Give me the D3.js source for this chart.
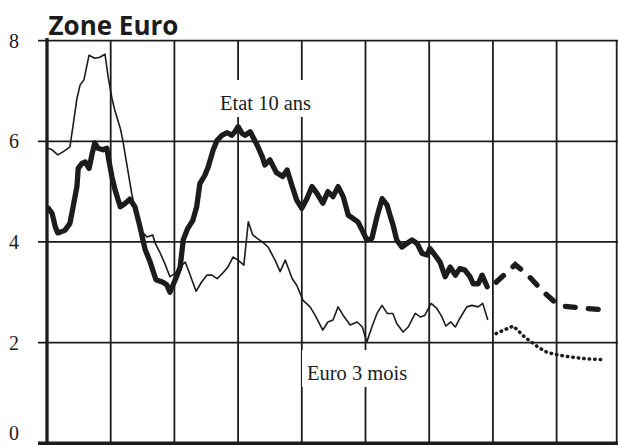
<!DOCTYPE html>
<html>
<head>
<meta charset="utf-8">
<script src="https://cdn.jsdelivr.net/npm/d3@7"></script>
<style>
  html, body { margin: 0; padding: 0; background: #fff; }
  svg { display: block; }
</style>
</head>
<body>
<svg id="chart" width="618" height="445"></svg>
<script>
// ---- data (x in periods: one grid column = 1 period) ----
const title = "Zone Euro";
const yTickValues = [0, 2, 4, 6, 8];
const periodTicks = [0, 1, 2, 3, 4, 5, 6, 7, 8, 9];
const labelTenYear = "Etat 10 ans";
const labelThreeMonth = "Euro 3 mois";

const tenYear = [
  [0.02,4.67],[0.08,4.57],[0.13,4.30],[0.17,4.18],[0.28,4.23],[0.36,4.37],[0.41,4.70],[0.47,5.10],
  [0.49,5.46],[0.55,5.56],[0.60,5.59],[0.66,5.46],[0.71,5.76],[0.75,5.97],[0.80,5.86],[0.88,5.83],
  [0.94,5.86],[0.97,5.63],[1.02,5.29],[1.07,5.03],[1.15,4.70],[1.22,4.76],[1.30,4.85],[1.38,4.70],
  [1.46,4.30],[1.54,3.85],[1.62,3.60],[1.71,3.25],[1.82,3.20],[1.88,3.15],[1.93,3.00],[2.03,3.30],
  [2.09,3.50],[2.14,4.05],[2.21,4.27],[2.29,4.43],[2.35,4.70],[2.40,5.16],[2.48,5.33],[2.53,5.49],
  [2.61,5.83],[2.67,6.02],[2.75,6.12],[2.83,6.17],[2.90,6.12],[2.95,6.19],[3.00,6.29],[3.06,6.16],
  [3.11,6.12],[3.19,6.19],[3.23,6.09],[3.30,5.92],[3.38,5.69],[3.42,5.53],[3.50,5.63],[3.60,5.38],
  [3.70,5.30],[3.77,5.43],[3.85,5.10],[3.92,4.83],[4.00,4.67],[4.08,4.86],[4.16,5.10],[4.24,4.96],
  [4.33,4.77],[4.41,5.00],[4.49,4.90],[4.57,5.10],[4.65,4.90],[4.73,4.53],[4.80,4.47],[4.88,4.40],
  [4.96,4.20],[5.02,4.04],[5.10,4.07],[5.18,4.50],[5.26,4.86],[5.34,4.73],[5.38,4.55],[5.43,4.35],
  [5.49,4.04],[5.57,3.90],[5.65,3.97],[5.73,4.04],[5.81,3.97],[5.89,3.77],[5.97,3.74],[6.01,3.87],
  [6.09,3.74],[6.17,3.60],[6.25,3.31],[6.33,3.50],[6.41,3.34],[6.48,3.47],[6.56,3.44],[6.64,3.31],
  [6.69,3.17],[6.77,3.17],[6.83,3.34],[6.91,3.11]
];

const threeMonth = [
  [0.02,5.86],[0.08,5.83],[0.17,5.73],[0.25,5.79],[0.36,5.89],[0.41,6.32],[0.47,6.85],[0.52,7.12],
  [0.58,7.22],[0.66,7.71],[0.75,7.65],[0.83,7.67],[0.91,7.73],[0.96,7.28],[1.02,6.85],[1.07,6.59],
  [1.15,6.26],[1.19,6.02],[1.26,5.49],[1.33,4.96],[1.41,4.50],[1.49,4.20],[1.57,4.10],[1.66,4.14],
  [1.70,3.97],[1.77,3.80],[1.85,3.57],[1.93,3.31],[2.01,3.37],[2.09,3.50],[2.17,3.60],[2.24,3.37],
  [2.34,3.02],[2.43,3.21],[2.51,3.34],[2.59,3.34],[2.67,3.27],[2.75,3.37],[2.84,3.50],[2.92,3.70],
  [3.00,3.64],[3.09,3.54],[3.16,4.40],[3.23,4.14],[3.30,4.07],[3.38,4.00],[3.47,3.90],[3.58,3.64],
  [3.66,3.41],[3.74,3.64],[3.85,3.27],[3.92,3.14],[4.02,2.84],[4.13,2.71],[4.21,2.54],[4.33,2.25],
  [4.41,2.41],[4.49,2.45],[4.57,2.71],[4.65,2.54],[4.76,2.35],[4.87,2.41],[4.95,2.31],[5.02,2.01],
  [5.10,2.31],[5.18,2.58],[5.26,2.74],[5.34,2.58],[5.43,2.58],[5.49,2.38],[5.59,2.21],[5.67,2.31],
  [5.78,2.58],[5.86,2.51],[5.93,2.54],[6.03,2.78],[6.12,2.68],[6.20,2.51],[6.26,2.33],[6.34,2.41],
  [6.41,2.31],[6.48,2.48],[6.59,2.71],[6.67,2.74],[6.77,2.71],[6.84,2.78],[6.92,2.45]
];

const tenYearForecast = [
  [7.05,3.20],[7.35,3.55],[7.55,3.34],[7.79,3.01],[7.97,2.81],[8.13,2.72],[8.45,2.68],[8.85,2.64]
];
const threeMonthForecast = [
  [7.05,2.18],[7.32,2.33],[7.50,2.11],[7.71,1.91],[7.86,1.80],[8.13,1.73],[8.45,1.68],[8.74,1.66]
];

// ---- layout ----
const W = 618, H = 445;
const ink = "#1c1c1c";
const svg = d3.select("#chart");

const x = d3.scaleLinear().domain([0, 9]).range([47, 620.3]);
const y = d3.scaleLinear().domain([0, 8]).range([443.3, 40.6]);

// horizontal grid
svg.append("g").selectAll("line").data(yTickValues).join("line")
  .attr("x1", 38).attr("x2", W)
  .attr("y1", d => y(d)).attr("y2", d => y(d))
  .attr("stroke", ink).attr("stroke-width", d => d === 0 ? 3.4 : 1.8);

// vertical grid
svg.append("g").selectAll("line").data(periodTicks.filter(d => d > 0 && d < 9)).join("line")
  .attr("x1", d => x(d)).attr("x2", d => x(d))
  .attr("y1", y(8)).attr("y2", y(0))
  .attr("stroke", ink).attr("stroke-width", 1.8);

// right frame
svg.append("line").attr("x1", W - 1.3).attr("x2", W - 1.3).attr("y1", y(8)).attr("y2", y(0))
  .attr("stroke", ink).attr("stroke-width", 1.8);

// left axis
svg.append("line").attr("x1", x(0)).attr("x2", x(0)).attr("y1", 38).attr("y2", H)
  .attr("stroke", ink).attr("stroke-width", 3.3);

// y tick labels (bottom one kept fully inside the picture)
svg.append("g").selectAll("text").data(yTickValues).join("text")
  .attr("x", 14).attr("y", d => Math.min(y(d) + 7, H - 5.5))
  .attr("text-anchor", "middle")
  .attr("font-family", "'Liberation Serif', 'DejaVu Serif', serif")
  .attr("font-size", 20).attr("fill", ink)
  .text(d => d);

// title
svg.append("text").attr("x", 48.5).attr("y", 35)
  .attr("font-family", "'Open Sans', 'Noto Sans', sans-serif")
  .attr("font-weight", 700).attr("font-size", 26).attr("fill", ink)
  .text(title);

// series labels with white knock-out backgrounds
function seriesLabel(text, px, baseline) {
  const g = svg.append("g");
  const rect = g.append("rect").attr("fill", "#fff");
  const t = g.append("text").attr("x", px).attr("y", baseline)
    .attr("font-family", "'Liberation Serif', 'DejaVu Serif', serif")
    .attr("font-size", 20.5).attr("fill", ink).text(text);
  const bb = t.node().getBBox();
  rect.attr("x", bb.x - 5).attr("width", bb.width + 10)
      .attr("y", baseline - 30).attr("height", 37);
}
seriesLabel(labelTenYear, 220, 110);
seriesLabel(labelThreeMonth, 307, 380);

// lines
const line = d3.line().x(d => x(d[0])).y(d => y(d[1])).curve(d3.curveLinear);

svg.append("path").datum(threeMonth).attr("d", line)
  .attr("fill", "none").attr("stroke", ink).attr("stroke-width", 1.6)
  .attr("stroke-linejoin", "round");

svg.append("path").datum(tenYear).attr("d", line)
  .attr("fill", "none").attr("stroke", ink).attr("stroke-width", 5.3)
  .attr("stroke-linejoin", "round").attr("stroke-linecap", "round");

svg.append("path").datum(tenYearForecast).attr("d", line)
  .attr("fill", "none").attr("stroke", ink).attr("stroke-width", 5.3)
  .attr("stroke-dasharray", "10 13").attr("stroke-linecap", "round");

svg.append("path").datum(threeMonthForecast).attr("d", line)
  .attr("fill", "none").attr("stroke", ink).attr("stroke-width", 3.5)
  .attr("stroke-dasharray", "0.5 5").attr("stroke-linecap", "round");
</script>
</body>
</html>
